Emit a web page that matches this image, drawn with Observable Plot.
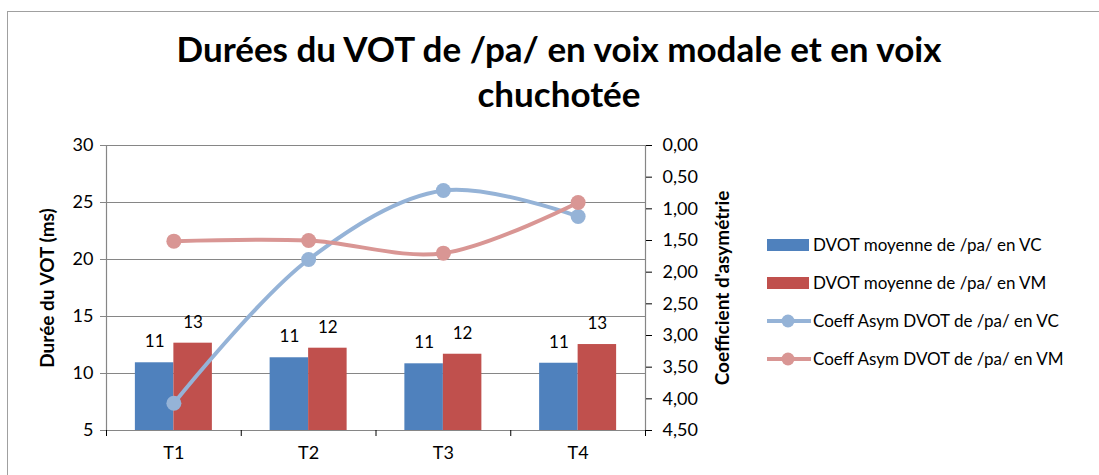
<!DOCTYPE html>
<html><head><meta charset="utf-8">
<script src="https://cdn.jsdelivr.net/npm/d3@7"></script>
<script src="https://cdn.jsdelivr.net/npm/@observablehq/plot@0.6"></script>
<style>
html,body{margin:0;padding:0;background:#fff;overflow:hidden;}
body{font-family:Lato,"Open Sans",sans-serif;color:#000;}
#frame{position:absolute;left:7px;top:11px;width:1120px;height:500px;border:1.5px solid #a0a0a0;box-sizing:border-box;}
#title{position:absolute;left:0;top:26px;width:1120px;text-align:center;font-weight:bold;font-size:35px;line-height:45px;}
#chart{position:absolute;left:0;top:125px;}
#legend{position:absolute;left:767px;top:0;}
.li{position:absolute;left:0;white-space:nowrap;font-size:17px;height:20px;line-height:20px;}
.li svg{position:absolute;left:0;top:0;}
.li span{position:absolute;left:46px;top:0;}
</style></head>
<body>
<div id="frame"></div>
<div id="title" style="left:0;width:1118px">Durées du VOT de /pa/ en voix modale et en voix<br>chuchotée</div>
<div id="chart"></div>
<div id="legend"></div>
<script>
const categories = ["T1","T2","T3","T4"];
const seriesNames = ["DVOT moyenne de /pa/ en VC","DVOT moyenne de /pa/ en VM","Coeff Asym DVOT de /pa/ en VC","Coeff Asym DVOT de /pa/ en VM"];
const dvotVC = [10.94, 11.38, 10.85, 10.90];
const dvotVM = [12.66, 12.22, 11.69, 12.54];
const labelVC = ["11","11","11","11"];
const labelVM = ["13","12","12","13"];
const coefVC = [4.07, 1.80, 0.71, 1.12];
const coefVM = [1.51, 1.50, 1.70, 0.90];
const leftTicks = [5,10,15,20,25,30];
const rightTicks = [0,0.5,1,1.5,2,2.5,3,3.5,4,4.5];

const colVC = "#4f81bd", colVM = "#c0504d", colLVC = "#95b3d7", colLVM = "#d99694";
const barW = 0.2857;
// right axis (reversed 0..4.5) mapped onto left domain 30..5
const yMin = 5, yMax = 30, cMax = 4.5;
const c2y = c => yMax - c * (yMax - yMin) / cMax;

const bars = [];
categories.forEach((c,i)=>{
  bars.push({cat:c, i, x1:i-barW, x2:i, v:dvotVC[i], lab:labelVC[i], s:seriesNames[0]});
  bars.push({cat:c, i, x1:i, x2:i+barW, v:dvotVM[i], lab:labelVM[i], s:seriesNames[1]});
});
const lineVC = categories.map((c,i)=>({i, c:coefVC[i]}));
const lineVM = categories.map((c,i)=>({i, c:coefVM[i]}));

const chart = Plot.plot({
  width: 760, height: 345,
  marginLeft: 106, marginRight: 115, marginTop: 20, marginBottom: 40,
  style: {fontFamily: "Lato, 'Open Sans', sans-serif", fontSize: "18px", color: "#000", background: "transparent"},
  x: {type: "linear", domain: [-0.5, 3.5], axis: null},
  y: {domain: [yMin, yMax], axis: null},
  marks: [
    Plot.ruleY(leftTicks, {stroke: "#868686", strokeWidth: 1.2}),
    Plot.rectY(bars, {x1: "x1", x2: "x2", y1: yMin, y2: "v", fill: d => d.s === seriesNames[0] ? colVC : colVM}),
    Plot.text(bars, {x: d => (d.x1 + d.x2)/2, y: "v", text: "lab", dy: -21, fontSize: 17, fill: "#000"}),
    Plot.ruleX([-0.5], {stroke: "#868686", strokeWidth: 1.2}),
    Plot.ruleX([3.5], {stroke: "#868686", strokeWidth: 1.2}),
    Plot.ruleY([yMin], {stroke: "#868686", strokeWidth: 1.2}),
    Plot.axisY({ticks: leftTicks, tickSize: 6, tickPadding: 7, stroke: "#868686", fontSize: 18, label: null, tickFormat: d => String(d)}),
    Plot.text(["Durée du VOT (ms)"], {frameAnchor: "left", dx: -59, rotate: -90, fontWeight: "bold", fontSize: 19, textAnchor: "middle"}),
    Plot.axisY({anchor: "right", ticks: rightTicks.map(c2y), tickSize: 6, tickPadding: 11, fontSize: 18, label: null, tickFormat: (d,k) => rightTicks[k].toFixed(2).replace(".", ",")}),
    Plot.text(["Coefficient d'asymétrie"], {frameAnchor: "right", dx: 77, rotate: -90, fontWeight: "bold", fontSize: 19, textAnchor: "middle"}),
    Plot.axisX({ticks: [-0.5,0.5,1.5,2.5,3.5], tickSize: 6, tickFormat: () => ""}),
    Plot.axisX({ticks: [0,1,2,3], tickSize: 0, tickPadding: 16, fontSize: 18, tickFormat: d => categories[d], label: null}),
    Plot.line(lineVC, {x: "i", y: d => c2y(d.c), stroke: colLVC, strokeWidth: 4, curve: "catmull-rom"}),
    Plot.dot(lineVC, {x: "i", y: d => c2y(d.c), r: 7.5, fill: colLVC}),
    Plot.line(lineVM, {x: "i", y: d => c2y(d.c), stroke: colLVM, strokeWidth: 4, curve: "catmull-rom"}),
    Plot.dot(lineVM, {x: "i", y: d => c2y(d.c), r: 7.5, fill: colLVM})
  ]
});
document.getElementById("chart").appendChild(chart);

// legend
const legend = document.getElementById("legend");
const legTops = [235, 273, 311, 349];
const legKinds = [{t:"bar",c:colVC},{t:"bar",c:colVM},{t:"line",c:colLVC},{t:"line",c:colLVM}];
seriesNames.forEach((n,k)=>{
  const d = document.createElement("div");
  d.className = "li"; d.style.top = legTops[k] + "px";
  const kd = legKinds[k];
  const sw = kd.t === "bar"
    ? `<svg width="44" height="20"><rect x="0" y="4" width="42" height="12" fill="${kd.c}"/></svg>`
    : `<svg width="44" height="20"><line x1="0" y1="10" x2="44" y2="10" stroke="${kd.c}" stroke-width="4"/><circle cx="21" cy="10" r="6.5" fill="${kd.c}"/></svg>`;
  d.innerHTML = sw + `<span>${n}</span>`;
  legend.appendChild(d);
});
</script>
</body></html>
